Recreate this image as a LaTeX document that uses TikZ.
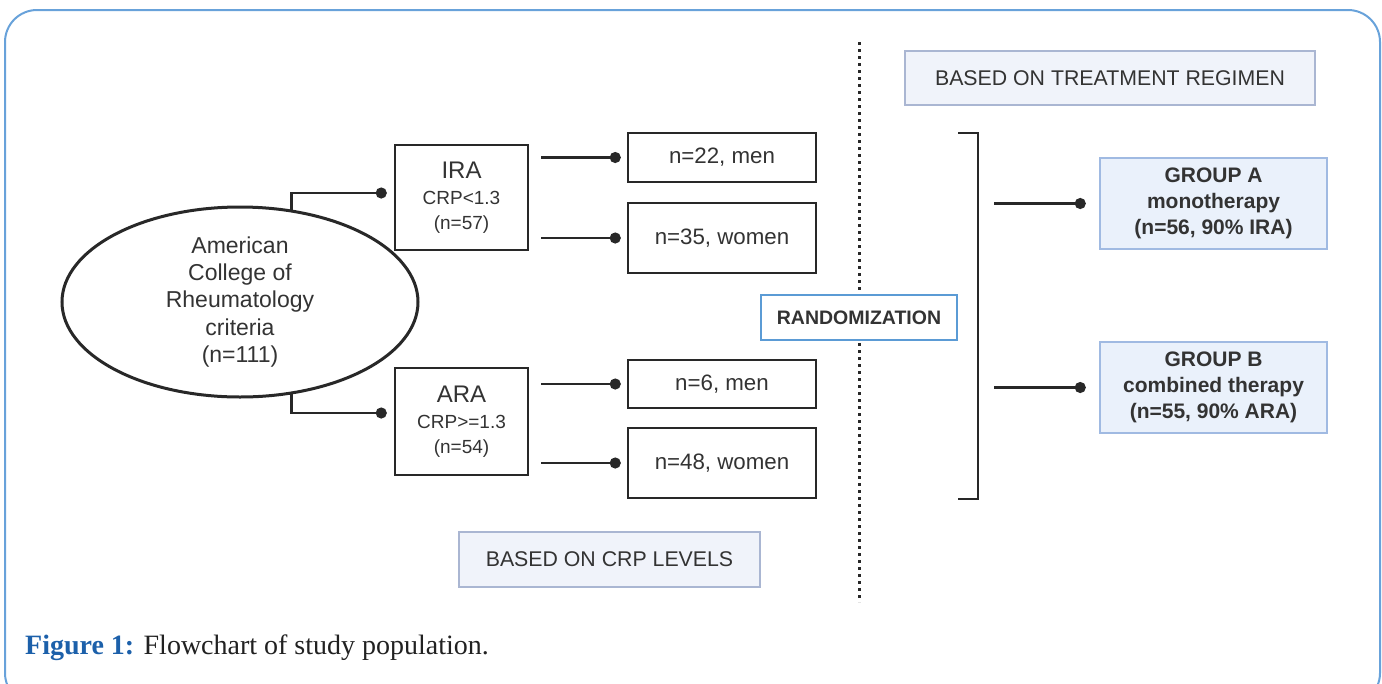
\documentclass[tikz,border=0pt]{standalone}
\usepackage{fontspec}
\setmainfont{Liberation Sans}
\newfontfamily\capfont{Liberation Serif}
\usetikzlibrary{arrows.meta,shapes.geometric}
\definecolor{frameblue}{RGB}{104,162,218}
\definecolor{txt}{RGB}{51,51,51}
\definecolor{capblue}{RGB}{28,96,170}
\definecolor{grpfill}{RGB}{234,241,251}
\definecolor{grpdraw}{RGB}{160,186,226}
\definecolor{lblfill}{RGB}{240,243,250}
\definecolor{lbldraw}{RGB}{170,182,210}
\definecolor{randdraw}{RGB}{91,155,213}
\definecolor{ink}{RGB}{40,40,40}
\begin{document}
\begin{tikzpicture}[x=1pt,y=-1pt,
  ell/.style={ellipse,draw=ink,line width=3pt,minimum width=356pt,minimum height=190pt,inner sep=0pt,align=center,text=txt,font=\fontsize{23}{27.3}\selectfont},
  catbox/.style={draw=ink,line width=2.5pt,fill=white,minimum width=133pt,inner sep=0pt,align=center,text=txt,font=\fontsize{19}{25}\selectfont},
  subbox/.style={draw=ink,line width=2.5pt,fill=white,minimum width=188pt,inner sep=0pt,align=center,text=txt,font=\fontsize{22.3}{26}\selectfont},
  lblbox/.style={draw=lbldraw,line width=2pt,fill=lblfill,inner sep=0pt,text=txt,font=\fontsize{21.3}{24}\selectfont},
  randbox/.style={draw=randdraw,line width=2.5pt,fill=white,minimum width=196pt,minimum height=45pt,inner sep=0pt,text=txt,font=\bfseries\fontsize{19.5}{24}\selectfont},
  grpbox/.style={draw=grpdraw,line width=2.5pt,fill=grpfill,minimum width=227pt,minimum height=91pt,inner sep=0pt,align=center,text=txt,font=\bfseries\fontsize{21}{26.3}\selectfont},
  conn/.style={draw=ink,line width=2.5pt,-{Circle[length=11pt,width=11pt]}},
  bracket/.style={draw=ink,line width=2.5pt},
  divider/.style={draw=ink,line width=3pt,dash pattern=on 3pt off 4pt}
]
\useasboundingbox (0,0) rectangle (1382,683);
% outer frame
\draw[frameblue,line width=2pt,rounded corners=32pt] (5,10) rectangle (1380,705);

% dotted divider
\coordinate (dtop) at (859,42);
\coordinate (dbot) at (859,602);
\draw[divider] (dtop) -- (dbot);

% left part
\node[ell] (acr) at (240,302) {American\\College of\\Rheumatology\\criteria\\(n=111)};
\node[catbox,minimum height=105pt] (ira) at (461.5,197.5) {{\fontsize{24}{25}\selectfont IRA}\\[1pt]CRP<1.3\\(n=57)};
\node[catbox,minimum height=107pt] (ara) at (461.5,421.5) {{\fontsize{24}{25}\selectfont ARA}\\[1pt]CRP>=1.3\\(n=54)};

\node[subbox,minimum height=49pt] (m22) at (722,157.5) {n=22, men};
\node[subbox,minimum height=70pt] (w35) at (722,238) {n=35, women};
\node[subbox,minimum height=48pt] (m6) at (722,384) {n=6, men};
\node[subbox,minimum height=70pt] (w48) at (722,463) {n=48, women};

\coordinate (jt) at (290,193);
\coordinate (jb) at (290,413);
\draw[conn] (acr.61) -- (acr.61 |- jt) -- ([xshift=-7pt]ira.west |- jt);
\draw[conn] (acr.-61) -- (acr.-61 |- jb) -- ([xshift=-7pt]ara.west |- jb);

\draw[conn] ([xshift=12pt]ira.east |- m22) -- ([xshift=-6pt]m22.west);
\draw[conn] ([xshift=12pt]ira.east |- w35) -- ([xshift=-6pt]w35.west);
\draw[conn] ([xshift=12pt]ara.east |- m6) -- ([xshift=-6pt]m6.west);
\draw[conn] ([xshift=12pt]ara.east |- w48) -- ([xshift=-6pt]w48.west);

\node[lblbox,minimum width=301pt,minimum height=55pt] (crp) at (609.5,559.5) {BASED ON CRP LEVELS};

% middle
\node[randbox] (rand) at (859,317.5) {RANDOMIZATION};

% right part
\node[lblbox,minimum width=410pt,minimum height=54pt] (treat) at (1110,78) {BASED ON TREATMENT REGIMEN};

\coordinate (bt) at (978,133);
\coordinate (bb) at (978,499);
\draw[bracket] ([xshift=-20pt]bt) -- (bt) -- (bb) -- ([xshift=-20pt]bb);

\node[grpbox] (grpA) at (1213.5,203.5) {GROUP A\\monotherapy\\(n=56, 90\% IRA)};
\node[grpbox] (grpB) at (1213.5,387.5) {GROUP B\\combined therapy\\(n=55, 90\% ARA)};

\draw[conn] ([xshift=16pt]bt |- grpA) -- ([xshift=-13pt]grpA.west);
\draw[conn] ([xshift=16pt]bt |- grpB) -- ([xshift=-13pt]grpB.west);

% caption
\node[anchor=west,inner sep=0pt,text=black!87,font=\capfont\fontsize{28}{28}\selectfont] (cap) at (25,648) {\textcolor{capblue}{\bfseries Figure 1:} Flowchart of study population.};
\end{tikzpicture}
\end{document}
